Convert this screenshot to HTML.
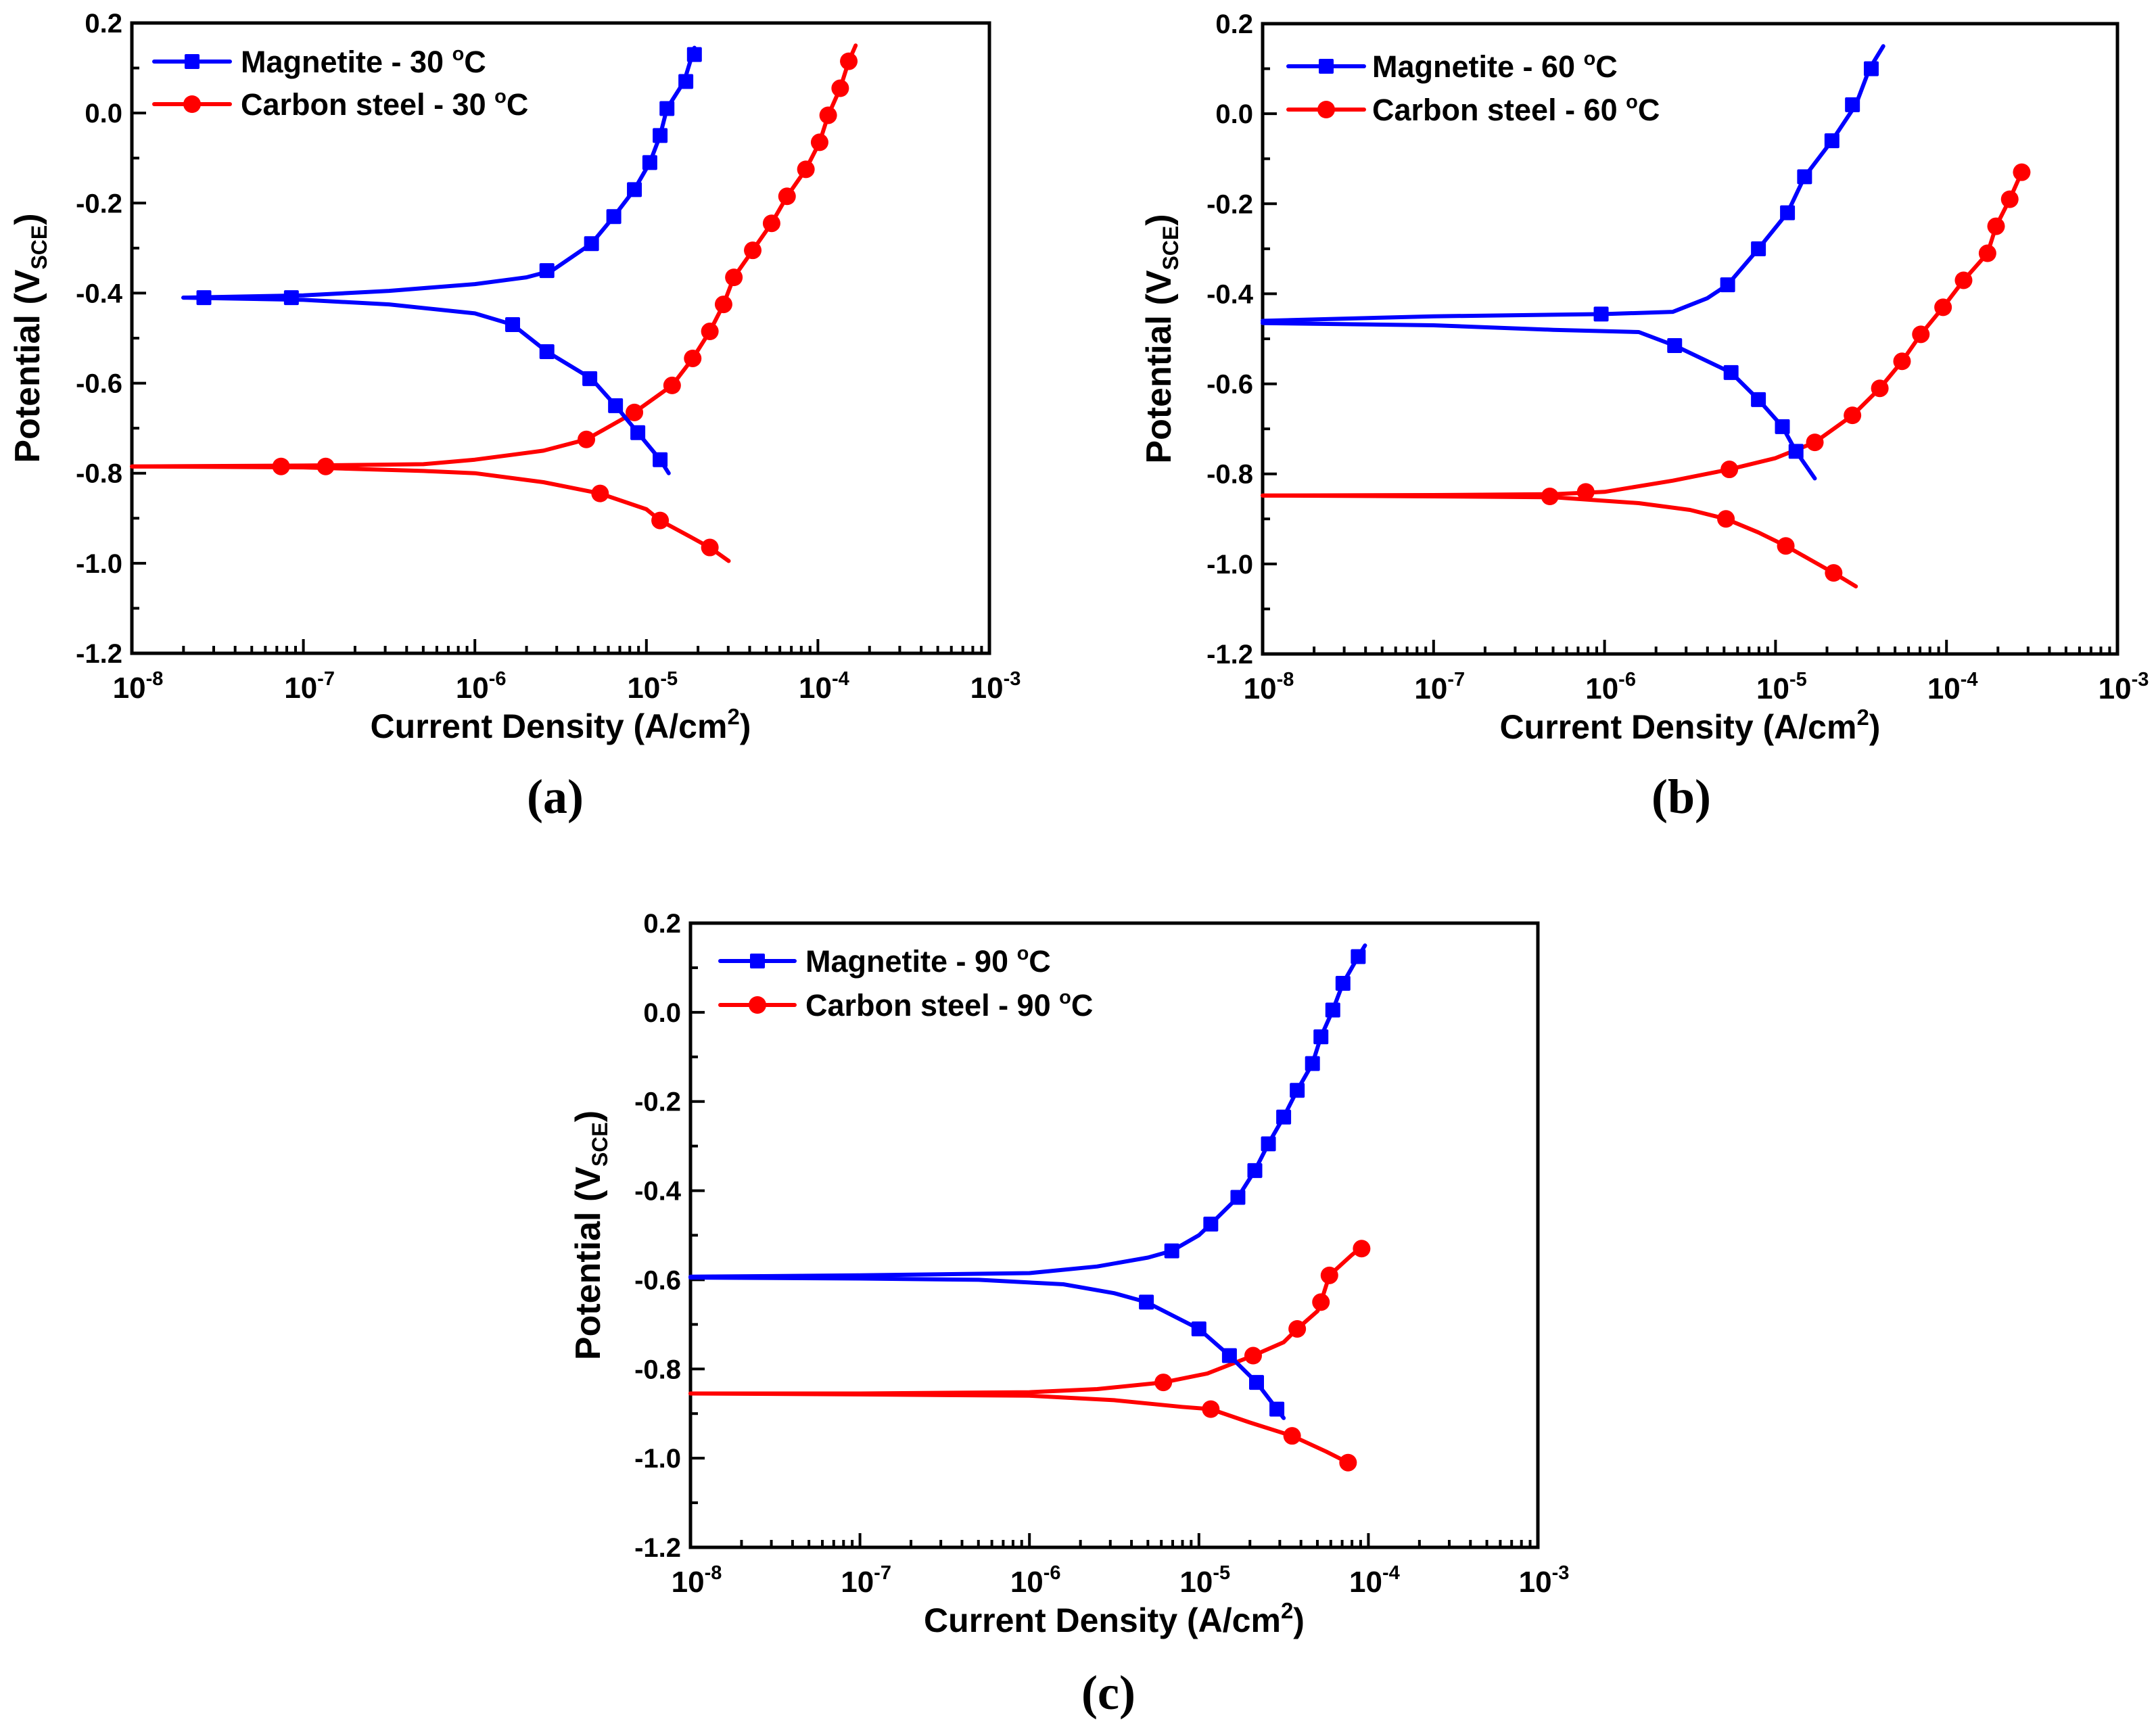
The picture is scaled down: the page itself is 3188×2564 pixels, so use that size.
<!DOCTYPE html>
<html><head><meta charset="utf-8"><style>
html,body{margin:0;padding:0;background:#fff;}
svg{display:block;}
text{font-family:"Liberation Sans",Arial,sans-serif;font-weight:bold;fill:#000;}
</style></head>
<body>
<svg id="fig" width="3188" height="2564" viewBox="0 0 3188 2564" xmlns="http://www.w3.org/2000/svg"></svg>
<script>
// ---- data: log10(current density A/cm2) and potential (V SCE) ----
const xTickExps = [-8, -7, -6, -5, -4, -3];
const yTickLabels = ["0.2", "0.0", "-0.2", "-0.4", "-0.6", "-0.8", "-1.0", "-1.2"];
const yTickValues = [0.2, 0.0, -0.2, -0.4, -0.6, -0.8, -1.0, -1.2];

// (a) 30 C
const magA_anodic_logI = [-7.7,-7,-6.5,-6,-5.7,-5.55,-5.32,-5.19,-5.07,-4.98,-4.92,-4.88,-4.78,-4.72];
const magA_anodic_E    = [-0.41,-0.405,-0.395,-0.38,-0.365,-0.35,-0.29,-0.23,-0.17,-0.11,-0.05,0.01,0.07,0.145];
const magA_cath_logI   = [-7.7,-7,-6.5,-6,-5.78,-5.58,-5.32,-5.18,-5.05,-4.92,-4.87];
const magA_cath_E      = [-0.41,-0.415,-0.425,-0.445,-0.47,-0.53,-0.59,-0.65,-0.71,-0.77,-0.80];
const magA_mk_logI = [-7.58,-7.07,-5.58,-5.32,-5.19,-5.07,-4.98,-4.92,-4.88,-4.77,-4.72,-5.78,-5.58,-5.33,-5.18,-5.05,-4.92];
const magA_mk_E    = [-0.41,-0.41,-0.35,-0.29,-0.23,-0.17,-0.11,-0.05,0.01,0.07,0.13,-0.47,-0.53,-0.59,-0.65,-0.71,-0.77];
const csA_anodic_logI = [-8,-7,-6.3,-6,-5.6,-5.35,-5.07,-4.85,-4.73,-4.63,-4.55,-4.49,-4.38,-4.27,-4.18,-4.07,-3.99,-3.94,-3.87,-3.82,-3.78];
const csA_anodic_E    = [-0.785,-0.783,-0.78,-0.77,-0.75,-0.725,-0.665,-0.605,-0.545,-0.485,-0.425,-0.365,-0.305,-0.245,-0.185,-0.125,-0.065,-0.005,0.055,0.115,0.15];
const csA_cath_logI   = [-8,-7,-6.3,-6,-5.6,-5.27,-5.0,-4.92,-4.75,-4.63,-4.52];
const csA_cath_E      = [-0.785,-0.787,-0.795,-0.80,-0.82,-0.845,-0.88,-0.905,-0.94,-0.965,-0.995];
const csA_mk_logI = [-7.13,-6.87,-5.35,-5.07,-4.85,-4.73,-4.63,-4.55,-4.49,-4.38,-4.27,-4.18,-4.07,-3.99,-3.94,-3.87,-3.82,-5.27,-4.92,-4.63];
const csA_mk_E    = [-0.785,-0.785,-0.725,-0.665,-0.605,-0.545,-0.485,-0.425,-0.365,-0.305,-0.245,-0.185,-0.125,-0.065,-0.005,0.055,0.115,-0.845,-0.905,-0.965];

// (b) 60 C
const magB_anodic_logI = [-8,-7,-6,-5.6,-5.4,-5.28,-5.1,-4.93,-4.83,-4.67,-4.53,-4.45,-4.37];
const magB_anodic_E    = [-0.46,-0.45,-0.445,-0.44,-0.41,-0.38,-0.30,-0.22,-0.14,-0.06,0.02,0.10,0.15];
const magB_cath_logI   = [-8,-7,-6.3,-5.8,-5.59,-5.26,-5.1,-4.96,-4.88,-4.77];
const magB_cath_E      = [-0.465,-0.47,-0.48,-0.485,-0.515,-0.575,-0.635,-0.695,-0.75,-0.81];
const magB_mk_logI = [-6.02,-5.28,-5.1,-4.93,-4.83,-4.67,-4.55,-4.44,-5.59,-5.26,-5.1,-4.96,-4.88];
const magB_mk_E    = [-0.445,-0.38,-0.30,-0.22,-0.14,-0.06,0.02,0.10,-0.515,-0.575,-0.635,-0.695,-0.75];
const csB_anodic_logI = [-8,-7,-6.3,-6,-5.6,-5.27,-5,-4.77,-4.55,-4.39,-4.26,-4.15,-4.02,-3.9,-3.76,-3.71,-3.63,-3.56];
const csB_anodic_E    = [-0.848,-0.847,-0.845,-0.84,-0.815,-0.79,-0.765,-0.73,-0.67,-0.61,-0.55,-0.49,-0.43,-0.37,-0.31,-0.25,-0.19,-0.13];
const csB_cath_logI   = [-8,-7,-6.3,-5.8,-5.5,-5.29,-5.1,-4.94,-4.8,-4.66,-4.53];
const csB_cath_E      = [-0.848,-0.85,-0.852,-0.865,-0.88,-0.90,-0.93,-0.96,-0.99,-1.02,-1.05];
const csB_mk_logI = [-6.11,-5.27,-4.77,-4.55,-4.39,-4.26,-4.15,-4.02,-3.9,-3.76,-3.71,-3.63,-3.56,-6.32,-5.29,-4.94,-4.66];
const csB_mk_E    = [-0.84,-0.79,-0.73,-0.67,-0.61,-0.55,-0.49,-0.43,-0.37,-0.31,-0.25,-0.19,-0.13,-0.85,-0.90,-0.96,-1.02];

// (c) 90 C
const magC_anodic_logI = [-8,-7,-6,-5.6,-5.3,-5.16,-5,-4.93,-4.77,-4.67,-4.59,-4.5,-4.42,-4.33,-4.28,-4.21,-4.15,-4.06,-4.02];
const magC_anodic_E    = [-0.593,-0.59,-0.585,-0.57,-0.55,-0.535,-0.5,-0.475,-0.415,-0.355,-0.295,-0.235,-0.175,-0.115,-0.055,0.005,0.065,0.125,0.15];
const magC_cath_logI   = [-8,-7,-6.3,-5.8,-5.5,-5.31,-5,-4.82,-4.66,-4.54,-4.5];
const magC_cath_E      = [-0.595,-0.597,-0.6,-0.61,-0.63,-0.65,-0.71,-0.77,-0.83,-0.89,-0.91];
const magC_mk_logI = [-5.16,-4.93,-4.77,-4.67,-4.59,-4.5,-4.42,-4.33,-4.28,-4.21,-4.15,-4.06,-5.31,-5,-4.82,-4.66,-4.54];
const magC_mk_E    = [-0.535,-0.475,-0.415,-0.355,-0.295,-0.235,-0.175,-0.115,-0.055,0.005,0.065,0.125,-0.65,-0.71,-0.77,-0.83,-0.89];
const csC_anodic_logI = [-8,-7,-6,-5.6,-5.21,-4.95,-4.68,-4.5,-4.42,-4.3,-4.28,-4.23,-4.1,-4.02];
const csC_anodic_E    = [-0.855,-0.855,-0.852,-0.845,-0.83,-0.81,-0.77,-0.74,-0.71,-0.67,-0.65,-0.59,-0.545,-0.52];
const csC_cath_logI   = [-8,-7,-6,-5.5,-5.1,-4.93,-4.7,-4.45,-4.25,-4.12];
const csC_cath_E      = [-0.855,-0.857,-0.86,-0.87,-0.885,-0.89,-0.92,-0.95,-0.985,-1.01];
const csC_mk_logI = [-5.21,-4.68,-4.42,-4.28,-4.23,-4.04,-4.93,-4.45,-4.12];
const csC_mk_E    = [-0.83,-0.77,-0.71,-0.65,-0.59,-0.53,-0.89,-0.95,-1.01];

const NS = "http://www.w3.org/2000/svg";
const svg = document.getElementById("fig");
function mk(tag, attrs, parent) {
  const e = document.createElementNS(NS, tag);
  for (const k in attrs) e.setAttribute(k, attrs[k]);
  (parent || svg).appendChild(e);
  return e;
}

const panels = [
  {id:"a", L:195, T:34, R:1463, B:966, temp:"30", yTitleX:41, caption:"(a)", capX:821, capY:1202, legLine:[228,340], legText:356, legY:[91,154],
   mag:[magA_anodic_logI,magA_anodic_E,magA_cath_logI,magA_cath_E,magA_mk_logI,magA_mk_E],
   cs:[csA_anodic_logI,csA_anodic_E,csA_cath_logI,csA_cath_E,csA_mk_logI,csA_mk_E]},
  {id:"b", L:1867, T:35, R:3131, B:967, temp:"60", yTitleX:1714, caption:"(b)", capX:2486, capY:1202, legLine:[1905,2017], legText:2029, legY:[98,162],
   mag:[magB_anodic_logI,magB_anodic_E,magB_cath_logI,magB_cath_E,magB_mk_logI,magB_mk_E],
   cs:[csB_anodic_logI,csB_anodic_E,csB_cath_logI,csB_cath_E,csB_mk_logI,csB_mk_E]},
  {id:"c", L:1021, T:1365, R:2274, B:2288, temp:"90", yTitleX:870, caption:"(c)", capX:1639, capY:2527, legLine:[1065,1175], legText:1191, legY:[1421,1486],
   mag:[magC_anodic_logI,magC_anodic_E,magC_cath_logI,magC_cath_E,magC_mk_logI,magC_mk_E],
   cs:[csC_anodic_logI,csC_anodic_E,csC_cath_logI,csC_cath_E,csC_mk_logI,csC_mk_E]}
];

function drawPanel(p) {
  const g = mk("g", {});
  
  
  const W = p.R - p.L, H = p.B - p.T;
  const xs = v => p.L + (v - (-8)) / 5 * W;
  const ys = v => p.T + (0.2 - v) / 1.4 * H;

  const tg = mk("g", {stroke:"#000","stroke-width":4}, g);
  
  
  for (let d = -8; d < -3; d++) {
    for (let m = 2; m <= 9; m++) {
      const x = xs(d + Math.log10(m));
      mk("line", {x1:x, x2:x, y1:p.B, y2:p.B-11}, tg);
    }
  }
  xTickExps.forEach(e => { const x = xs(e); mk("line", {x1:x, x2:x, y1:p.B, y2:p.B-21}, tg); });
  for (let i = 0; i < yTickValues.length; i++) {
    const y = ys(yTickValues[i]);
    mk("line", {x1:p.L, x2:p.L+21, y1:y, y2:y}, tg);
    if (i < yTickValues.length - 1) {
      const ym = ys(yTickValues[i] - 0.1);
      mk("line", {x1:p.L, x2:p.L+11, y1:ym, y2:ym}, tg);
    }
  }
  const frame = mk("rect", {x:p.L, y:p.T, width:W, height:H, fill:"none", stroke:"#000", "stroke-width":5}, g);
  
  

  yTickLabels.forEach((lab, i) => {
    const t = mk("text", {x:p.L-14, y:ys(yTickValues[i])+14, "text-anchor":"end", "font-size":40}, g);
    t.textContent = lab;
    
    
  });
  xTickExps.forEach(e => {
    const t = mk("text", {x:xs(e)+9, y:p.B+66, "text-anchor":"middle", "font-size":44}, g);
    t.textContent = "10";
    const s = mk("tspan", {dy:-19, "font-size":29}, t);
    s.textContent = String(e);
    
    
  });
  const xt = mk("text", {x:(p.L+p.R)/2, y:p.B+125, "text-anchor":"middle", "font-size":50}, g);
  xt.textContent = "Current Density (A/cm";
  const sup = mk("tspan", {dy:-20, "font-size":33}, xt); sup.textContent = "2";
  const cl = mk("tspan", {dy:20}, xt); cl.textContent = ")";
  
  
  const cy = (p.T + p.B) / 2;
  const yt = mk("text", {x:p.yTitleX, y:cy, transform:`rotate(-90 ${p.yTitleX} ${cy})`, "text-anchor":"middle", "font-size":52, dy:17}, g);
  yt.textContent = "Potential (V";
  const sub = mk("tspan", {dy:11, "font-size":32}, yt); sub.textContent = "SCE";
  const cp = mk("tspan", {dy:-11}, yt); cp.textContent = ")";
  
  

  function series(arrs, color, shape, name) {
    const sg = mk("g", {}, g);
    
    
    for (let b = 0; b < 2; b++) {
      const lx = arrs[b*2], ly = arrs[b*2+1];
      const pts = lx.map((v, i) => xs(v).toFixed(1) + "," + ys(ly[i]).toFixed(1)).join(" ");
      const pl = mk("polyline", {points:pts, fill:"none", stroke:color, "stroke-width":6, "stroke-linejoin":"round", "stroke-linecap":"round"}, sg);
      
      
    }
    const mx = arrs[4], my = arrs[5];
    mx.forEach((v, i) => {
      const x = xs(v), y = ys(my[i]);
      let m;
      if (shape === "sq") m = mk("rect", {x:x-11, y:y-11, width:22, height:22, rx:2, fill:color}, sg);
      else m = mk("circle", {cx:x, cy:y, r:13, fill:color}, sg);
      
      
    });
  }
  series(p.cs, "#ff0000", "ci", "carbon-steel");
  series(p.mag, "#0000ff", "sq", "magnetite");

  const lg = mk("g", {}, g);
  
  
  const items = [["Magnetite - " + p.temp + " ", "#0000ff", "sq"], ["Carbon steel - " + p.temp + " ", "#ff0000", "ci"]];
  items.forEach((it, i) => {
    const y = p.legY[i];
    const e = mk("g", {}, lg);
    
    
    mk("line", {x1:p.legLine[0], x2:p.legLine[1], y1:y, y2:y, stroke:it[1], "stroke-width":6, "stroke-linecap":"round"}, e);
    const cx = (p.legLine[0] + p.legLine[1]) / 2;
    if (it[2] === "sq") mk("rect", {x:cx-11, y:y-11, width:22, height:22, rx:2, fill:it[1]}, e);
    else mk("circle", {cx:cx, cy:y, r:13, fill:it[1]}, e);
    const t = mk("text", {x:p.legText, y:y+16, "font-size":45}, e);
    t.textContent = it[0];
    const o = mk("tspan", {dy:-18, "font-size":29}, t); o.textContent = "o";
    const c = mk("tspan", {dy:18}, t); c.textContent = "C";
  });

  const cap = mk("text", {x:p.capX, y:p.capY, "text-anchor":"middle", "font-size":72, style:"font-family:'Liberation Serif',serif;font-weight:bold"}, g);
  cap.textContent = p.caption;
  
  
}
panels.forEach(drawPanel);
</script>
</body></html>
